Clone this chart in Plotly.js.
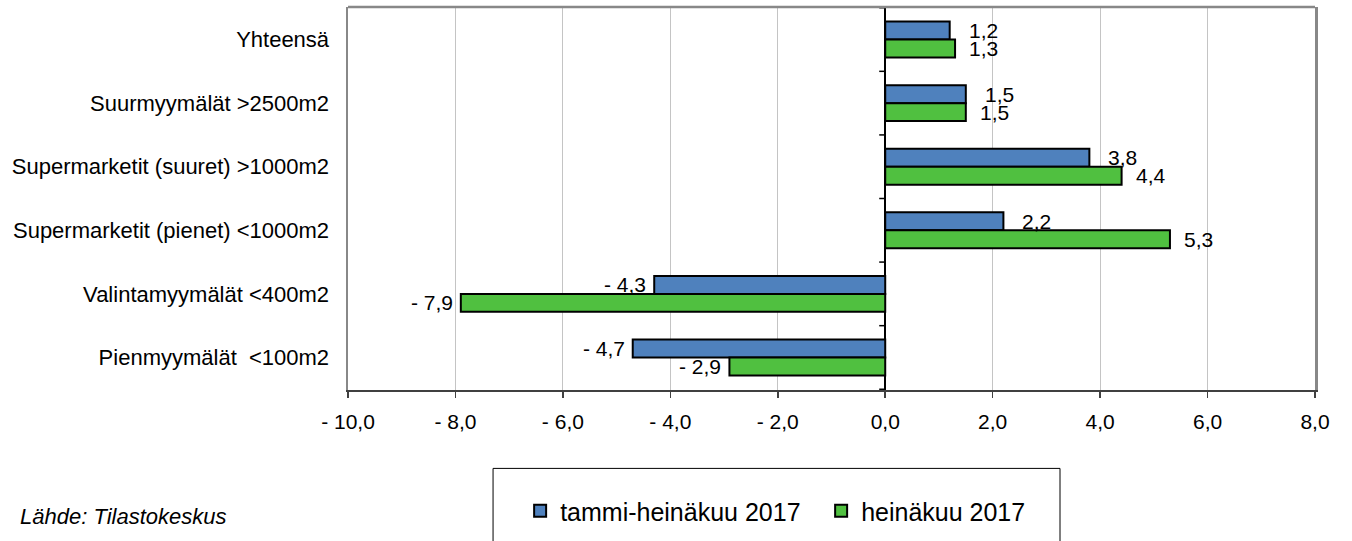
<!DOCTYPE html>
<html>
<head>
<meta charset="utf-8">
<script src="https://cdn.plot.ly/plotly-3.0.1.min.js"></script>
<style>html,body{margin:0;padding:0;background:#fff;}#chart{width:1352px;height:541px;}</style>
</head>
<body>
<div id="chart"></div>
<script>
const categories = ['Yhteensä', 'Suurmyymälät >2500m2', 'Supermarketit (suuret) >1000m2', 'Supermarketit (pienet) <1000m2', 'Valintamyymälät <400m2', 'Pienmyymälät\u00a0 <100m2'];
const seriesNames = ['tammi-heinäkuu 2017', 'heinäkuu 2017'];
const tammiHeinakuu = [1.2, 1.5, 3.8, 2.2, -4.3, -4.7];
const heinakuu = [1.3, 1.5, 4.4, 5.3, -7.9, -2.9];
const tickValues = [-10, -8, -6, -4, -2, 0, 2, 4, 6, 8];
const tickLabels = ['- 10,0', '- 8,0', '- 6,0', '- 4,0', '- 2,0', '0,0', '2,0', '4,0', '6,0', '8,0'];

const FONT = '"Liberation Sans", Arial, sans-serif';
const colors = ['#4f81bd', '#50c040'];
const series = [tammiHeinakuu, heinakuu];
const BARGAP = 0.435;
const half = (1 - BARGAP) / 4;
const posShift = [17, 12];

function fmt(v) {
  const s = Math.abs(v).toFixed(1).replace('.', ',');
  return v < 0 ? '- ' + s : s;
}

const traces = series.map((vals, k) => ({
  type: 'bar', orientation: 'h', name: seriesNames[k],
  x: vals, y: categories,
  marker: {color: colors[k], line: {color: '#000', width: 2}},
  hoverinfo: 'x+y'
}));

const annotations = [];
series.forEach((vals, k) => {
  vals.forEach((v, i) => {
    annotations.push({
      x: v, y: i + (k === 0 ? -half : half), xref: 'x', yref: 'y',
      text: fmt(v), showarrow: false,
      xanchor: v >= 0 ? 'left' : 'right',
      xshift: v >= 0 ? posShift[k] : -6,
      font: {family: FONT, size: 21, color: '#000'}
    });
  });
});
annotations.push({
  xref: 'paper', yref: 'paper', x: -0.3413, y: -0.3315, xanchor: 'left', yanchor: 'middle',
  text: '<i>Lähde: Tilastokeskus</i>', showarrow: false,
  font: {family: FONT, size: 22, color: '#000'}
});

const shapes = [];
for (let b = 0; b <= categories.length; b++) {
  shapes.push({type: 'line', xref: 'x', yref: 'y', xsizemode: 'pixel', xanchor: 0,
    x0: -6, x1: 0, y0: b - 0.5, y1: b - 0.5, line: {color: '#000', width: 1.5}});
}
shapes.push({type: 'line', xref: 'paper', yref: 'paper', x0: 0, x1: 1, y0: 1, y1: 1,
  line: {color: '#888', width: 2.5}});
shapes.push({type: 'rect', xref: 'paper', yref: 'paper', x0: 0.15, x1: 0.7363, y0: -0.2047, y1: -0.45,
  line: {color: '#000', width: 1}, fillcolor: 'rgba(0,0,0,0)'});

const layout = {
  width: 1352, height: 541,
  margin: {l: 348, r: 37, t: 7, b: 148},
  paper_bgcolor: '#fff', plot_bgcolor: '#fff',
  font: {family: FONT, size: 21, color: '#000'},
  barmode: 'group', bargap: BARGAP, bargroupgap: 0,
  xaxis: {
    range: [-10, 8], tickvals: tickValues, ticktext: tickLabels,
    ticks: 'outside', ticklen: 6, tickcolor: '#404040', tickwidth: 1.5,
    showline: true, linecolor: '#404040', linewidth: 2,
    showgrid: true, gridcolor: '#c4c4c4', gridwidth: 1.2,
    zeroline: true, zerolinecolor: '#000', zerolinewidth: 1.6,
    tickfont: {family: FONT, size: 21, color: '#000'},
    ticklabelstandoff: 6, fixedrange: true
  },
  yaxis: {
    type: 'category', autorange: 'reversed', categoryorder: 'array', categoryarray: categories,
    showgrid: false, zeroline: false, ticks: '',
    showline: true, linecolor: '#888', linewidth: 2.5, mirror: true,
    tickfont: {family: FONT, size: 22, color: '#000'},
    ticklabelstandoff: 12, fixedrange: true
  },
  showlegend: true,
  legend: {
    orientation: 'h', xref: 'paper', yref: 'paper', x: 0.178, y: -0.316,
    xanchor: 'left', yanchor: 'middle', traceorder: 'normal',
    font: {family: FONT, size: 25, color: '#000'},
    bgcolor: 'rgba(0,0,0,0)', borderwidth: 0,
    entrywidth: 256, entrywidthmode: 'pixels', itemwidth: 30
  },
  annotations: annotations,
  shapes: shapes
};

Plotly.newPlot('chart', traces, layout, {displayModeBar: false, staticPlot: true});
</script>
</body>
</html>
